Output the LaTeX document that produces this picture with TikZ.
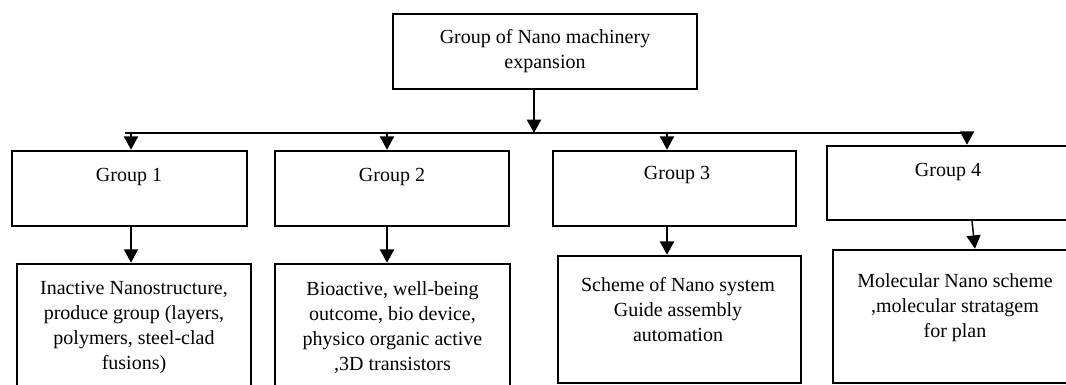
\documentclass[tikz,border=0pt]{standalone}
\usepackage{fontspec}
\setmainfont{Liberation Serif}
\usetikzlibrary{arrows.meta}
\begin{document}
\begin{tikzpicture}[x=0.75pt,y=-0.75pt,
  box/.style={draw, line width=1.9pt, inner sep=0pt},
  txt/.style={align=center, inner sep=0pt, font=\fontsize{15pt}{18.75pt}\selectfont},
  arr/.style={line width=1.6pt, -{Triangle[width=10.5pt,length=10pt]}},
  thinarr/.style={line width=1.1pt, -{Triangle[width=10.5pt,length=10pt]}},
  ln/.style={line width=1.7pt}]
\useasboundingbox (0,0) rectangle (1066,385);
\clip (0,0) rectangle (1066,385);
% boxes
\node[box, minimum width=228pt, minimum height=56.25pt] (top) at (545,51.5) {};
\node[box, minimum width=176.25pt, minimum height=56.25pt] (g1) at (129.5,188.5) {};
\node[box, minimum width=175.5pt, minimum height=56.25pt] (g2) at (392,188.5) {};
\node[box, minimum width=182.25pt, minimum height=56.25pt] (g3) at (674.5,188.5) {};
\node[box, minimum width=181.5pt, minimum height=55.5pt] (g4) at (948,183) {};
\node[box, minimum width=175.5pt, minimum height=95.25pt] (b1) at (134,327.5) {};
\node[box, minimum width=176.25pt, minimum height=95.25pt] (b2) at (392.5,327.5) {};
\node[box, minimum width=182.25pt, minimum height=95.25pt] (b3) at (679.5,319.5) {};
\node[box, minimum width=181.5pt, minimum height=99.75pt] (b4) at (954,316.5) {};
% texts
\node[txt] (topt) at (545,51.5) {Group of Nano machinery\\expansion};
\node[txt] (g1t) at (129,177) {Group 1};
\node[txt] (g2t) at (392,177) {Group 2};
\node[txt] (g3t) at (677,175) {Group 3};
\node[txt] (g4t) at (948,172) {Group 4};
\node[txt] (b1t) at (134,327.5) {Inactive Nanostructure,\\produce group (layers,\\polymers, steel-clad\\fusions)};
\node[txt] (b2t) at (392.5,327.5) {Bioactive, well-being\\outcome, bio device,\\physico organic active\\,3D transistors};
\node[txt] (b3t) at (678,310) {Scheme of Nano system\\Guide assembly\\automation};
\node[txt] (b4t) at (955,308) {Molecular Nano scheme\\,molecular stratagem\\for plan};
% connector coordinates
\coordinate (hub) at (534,133);
\coordinate (hl) at (125,133);
\coordinate (hr) at (972,133);
\coordinate (c1) at (131,133);
\coordinate (c2) at (387,133);
\coordinate (c3) at (667,133);
\coordinate (c4) at (967,133);
\coordinate (d4) at (975,0);
% connectors
\draw[ln] (hl) -- (hr);
\draw[arr] (top.south -| hub) -- (hub);
\draw[arr] (c1) -- (c1 |- g1.north);
\draw[arr] (c2) -- (c2 |- g2.north);
\draw[arr] (c3) -- (c3 |- g3.north);
\draw[arr] (c4) -- (c4 |- g4.north);
\draw[thinarr] (c1 |- g1.south) -- (c1 |- b1.north);
\draw[arr] (c2 |- g2.south) -- (c2 |- b2.north);
\draw[arr] (c3 |- g3.south) -- (c3 |- b3.north);
\draw[thinarr] (hr |- g4.south) -- (d4 |- b4.north);
\end{tikzpicture}
\end{document}
